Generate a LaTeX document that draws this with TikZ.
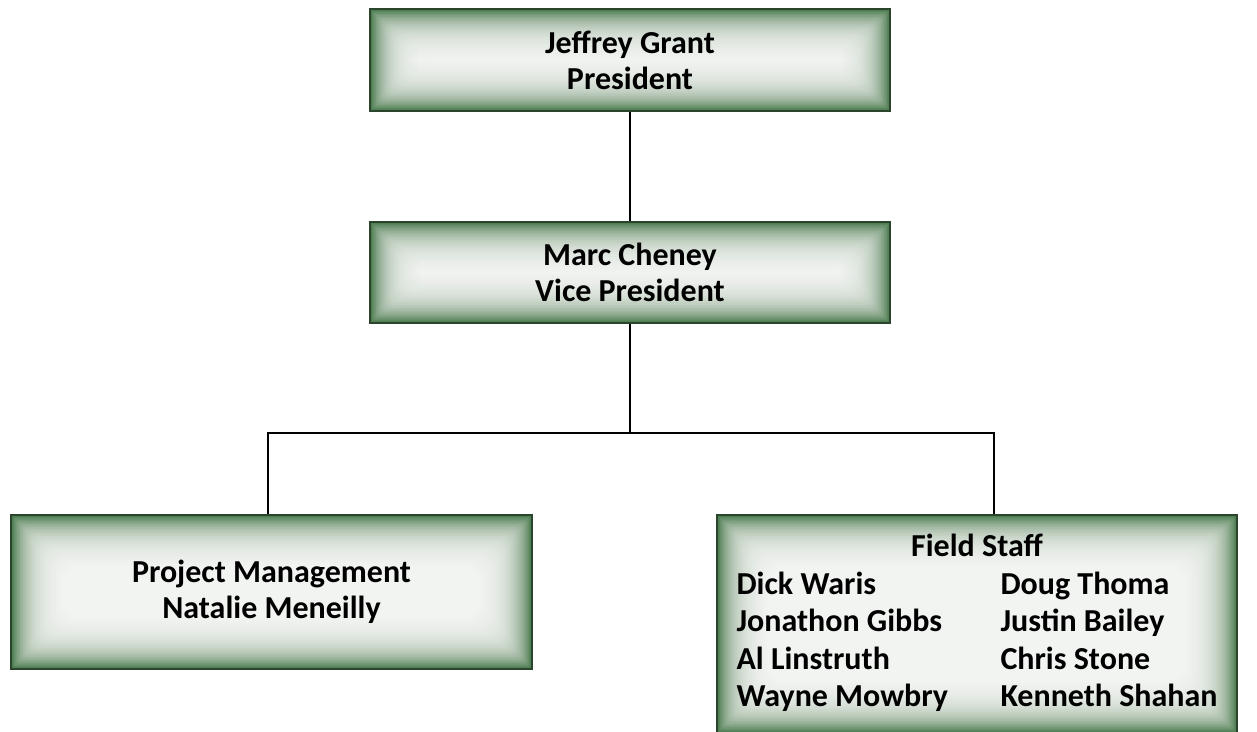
\documentclass[tikz,border=0pt]{standalone}
\usepackage{fontspec}
\setmainfont{Carlito}
\usetikzlibrary{calc}
\definecolor{glowgreen}{HTML}{4A7A4E}
\definecolor{edgegreen}{HTML}{2A452B}
\tikzset{
  orgbox/.style={rectangle, inner sep=0pt, fill=glowgreen, draw=edgegreen, line width=1.2pt,
    font=\fontsize{32}{36}\selectfont\bfseries, align=center,
    path picture={
      \foreach \i in {1,...,34}{
        \fill[white, opacity=0.085, rounded corners=\i*0.6pt]
          ([shift={(\i*1.5pt,-\i*1.5pt)}]path picture bounding box.north west)
          rectangle
          ([shift={(-\i*1.5pt,\i*1.5pt)}]path picture bounding box.south east);
      }
    }},
  link/.style={draw=black, line width=2pt}
}
\begin{document}
\begin{tikzpicture}[x=1pt,y=-1pt]
\useasboundingbox (0,0) rectangle (1257,731);
\node[orgbox, minimum width=520pt, minimum height=102pt] (pres) at (630,60) {Jeffrey Grant\\President};
\node[orgbox, minimum width=520pt, minimum height=101pt] (vp) at (630,272.5) {Marc Cheney\\Vice President};
\node[orgbox, minimum width=521pt, minimum height=154pt] (pm) at (271.5,592) {Project Management\\Natalie Meneilly};
\node[orgbox, minimum width=520pt, minimum height=218pt] (fs) at (977,624) {\fontsize{32}{37.5}\selectfont\bfseries
\begin{tabular}{@{}p{264pt}@{}l@{}}
\multicolumn{2}{c}{Field Staff}\\
Dick Waris & Doug Thoma\\
Jonathon Gibbs & Justin Bailey\\
Al Linstruth & Chris Stone\\
Wayne Mowbry & Kenneth Shahan
\end{tabular}};
\coordinate (bus) at (630,433);
\draw[link] (pres.south) -- (vp.north);
\draw[link] (vp.south) -- (bus);
\draw[link] (bus) -| ([xshift=-3.5pt]pm.north);
\draw[link] (bus) -| ([xshift=17pt]fs.north);
\end{tikzpicture}
\end{document}
